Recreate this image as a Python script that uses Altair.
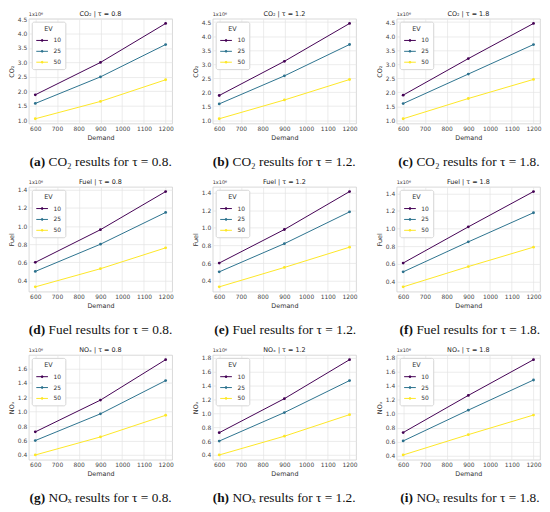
import altair as alt
import pandas as pd

# ---------------- data ----------------
demand = [600, 900, 1200]
ev_levels = ["10", "25", "50"]
tau_labels = ["0.8", "1.2", "1.8"]
letters = [["a", "b", "c"], ["d", "e", "f"], ["g", "h", "i"]]
x_ticks = [600, 700, 800, 900, 1000, 1100, 1200]

# CO2 (x10^6)
co2_t08_ev10 = [1.88, 3.00, 4.35]
co2_t08_ev25 = [1.58, 2.50, 3.62]
co2_t08_ev50 = [1.05, 1.65, 2.40]
co2_t12_ev10 = [1.88, 3.10, 4.45]
co2_t12_ev25 = [1.58, 2.58, 3.70]
co2_t12_ev50 = [1.05, 1.72, 2.45]
co2_t18_ev10 = [1.90, 3.20, 4.45]
co2_t18_ev25 = [1.60, 2.65, 3.70]
co2_t18_ev50 = [1.06, 1.78, 2.46]
co2_ticks = [1.0, 1.5, 2.0, 2.5, 3.0, 3.5, 4.0, 4.5]

# Fuel (x10^6)
fuel_t08_ev10 = [0.60, 0.96, 1.38]
fuel_t08_ev25 = [0.50, 0.80, 1.15]
fuel_t08_ev50 = [0.33, 0.53, 0.76]
fuel_t12_ev10 = [0.60, 0.98, 1.41]
fuel_t12_ev25 = [0.50, 0.82, 1.18]
fuel_t12_ev50 = [0.33, 0.55, 0.78]
fuel_t18_ev10 = [0.61, 1.02, 1.42]
fuel_t18_ev25 = [0.51, 0.85, 1.18]
fuel_t18_ev50 = [0.34, 0.57, 0.79]
fuel_ticks = [0.4, 0.6, 0.8, 1.0, 1.2, 1.4]

# NOx (x10^6)
nox_t08_ev10 = [0.72, 1.16, 1.72]
nox_t08_ev25 = [0.60, 0.97, 1.43]
nox_t08_ev50 = [0.40, 0.65, 0.95]
nox_t12_ev10 = [0.72, 1.21, 1.77]
nox_t12_ev25 = [0.60, 1.01, 1.47]
nox_t12_ev50 = [0.40, 0.67, 0.98]
nox_t18_ev10 = [0.73, 1.26, 1.77]
nox_t18_ev25 = [0.61, 1.05, 1.48]
nox_t18_ev50 = [0.41, 0.70, 0.98]
nox_ticks = [0.4, 0.6, 0.8, 1.0, 1.2, 1.4, 1.6, 1.8]

metrics = [
    ("CO₂", "CO₂", co2_ticks, [
        [co2_t08_ev10, co2_t08_ev25, co2_t08_ev50],
        [co2_t12_ev10, co2_t12_ev25, co2_t12_ev50],
        [co2_t18_ev10, co2_t18_ev25, co2_t18_ev50]]),
    ("Fuel", "Fuel", fuel_ticks, [
        [fuel_t08_ev10, fuel_t08_ev25, fuel_t08_ev50],
        [fuel_t12_ev10, fuel_t12_ev25, fuel_t12_ev50],
        [fuel_t18_ev10, fuel_t18_ev25, fuel_t18_ev50]]),
    ("NOₓ", "NOₓ", nox_ticks, [
        [nox_t08_ev10, nox_t08_ev25, nox_t08_ev50],
        [nox_t12_ev10, nox_t12_ev25, nox_t12_ev50],
        [nox_t18_ev10, nox_t18_ev25, nox_t18_ev50]]),
]

colors = ["#440154", "#2c728e", "#fde725"]

# ---------------- layout ----------------
W, H = 145, 106
CH = 14
SANS = "DejaVu Sans"
SERIF = "Liberation Serif"
LEG_SYMBOL = "M-1,0H1M-0.16,0a0.16,0.16 0 1,0 0.32,0a0.16,0.16 0 1,0 -0.32,0"


def panel(name, ticks, series, tau):
    recs = []
    for ev, vals in zip(ev_levels, series):
        for d, v in zip(demand, vals):
            recs.append({"Demand": d, "EV": ev, "value": v})
    df = pd.DataFrame(recs)
    allv = [v for s in series for v in s]
    lo, hi = min(allv), max(allv)
    pad = 0.05 * (hi - lo)
    dom = [lo - pad, hi + pad]
    tv = [t for t in ticks if dom[0] <= t <= dom[1]]
    base = alt.Chart(df).encode(
        x=alt.X("Demand:Q",
                scale=alt.Scale(domain=[570, 1230], nice=False, zero=False),
                axis=alt.Axis(values=x_ticks, title="Demand", format="d")),
        y=alt.Y("value:Q",
                scale=alt.Scale(domain=dom, nice=False, zero=False),
                axis=alt.Axis(values=tv, format=".1f", title=name)),
        color=alt.Color("EV:N",
                        scale=alt.Scale(domain=ev_levels, range=colors),
                        legend=alt.Legend(title="EV", orient="top-left",
                                          symbolType=LEG_SYMBOL)),
    )
    lines = base.mark_line(strokeWidth=1.0)
    pts = base.mark_point(filled=True, size=8, opacity=1)
    labels = pd.DataFrame({"expo": ["1x10⁶"], "title": [f"{name} | τ = {tau}"]})
    expo = alt.Chart(labels).mark_text(
        align="left", baseline="bottom", fontSize=5, font=SANS, color="#333"
    ).encode(text="expo:N", x=alt.value(0), y=alt.value(-1.5))
    ttl = alt.Chart(labels).mark_text(
        align="center", baseline="bottom", fontSize=6.5, font=SANS, color="#222"
    ).encode(text="title:N", x=alt.value(W / 2), y=alt.value(-1.5))
    return alt.layer(lines, pts, expo, ttl).properties(width=W, height=H)


def caption(letter, cap, tau):
    df = pd.DataFrame({"lab": [f"({letter})"],
                       "rest": [f"{cap} results for τ = {tau}."]})
    split = W / 2 - 56
    b = alt.Chart(df)
    lab = b.mark_text(align="right", baseline="middle", font=SERIF,
                      fontSize=13.5, fontWeight="bold", color="#111").encode(
        text="lab:N", x=alt.value(split), y=alt.value(CH / 2))
    rest = b.mark_text(align="left", baseline="middle", font=SERIF,
                       fontSize=13.5, color="#111", dx=3.5).encode(
        text="rest:N", x=alt.value(split), y=alt.value(CH / 2))
    return alt.layer(lab, rest).properties(
        width=W, height=CH, view=alt.ViewBackground(stroke="transparent"))


rows = []
for r, (name, cap, ticks, data) in enumerate(metrics):
    cells = []
    for c, tau in enumerate(tau_labels):
        cell = alt.vconcat(panel(name, ticks, data[c], tau),
                           caption(letters[r][c], cap, tau),
                           spacing=13).resolve_scale(color="independent")
        cells.append(cell)
    rows.append(alt.hconcat(*cells, spacing=18).resolve_scale(color="independent"))

chart = alt.vconcat(*rows, spacing=9).resolve_scale(color="independent").properties(
    padding={"left": 0, "top": 0, "right": 0, "bottom": 0}
).configure_view(
    stroke="#cfcfcf", strokeWidth=0.8
).configure_axis(
    labelFont=SANS, labelFontSize=6, labelColor="#444",
    titleFont=SANS, titleFontSize=6.5, titleFontWeight="normal", titleColor="#333",
    gridColor="#e3e3e3", gridWidth=0.7, ticks=False, domain=False,
    labelPadding=2, titlePadding=3,
).configure_legend(
    titleFont=SANS, titleFontSize=6.5, titleFontWeight="normal", titleColor="#333",
    labelFont=SANS, labelFontSize=6, labelColor="#333",
    symbolSize=140, symbolStrokeWidth=1.0, padding=4, rowPadding=1,
    strokeColor="#d5d5d5", fillColor="white", cornerRadius=2, offset=3,
    titlePadding=2, labelOffset=5, titleAnchor="middle",
)

chart.save("out.html", embed_options={"renderer": "svg", "actions": False})
